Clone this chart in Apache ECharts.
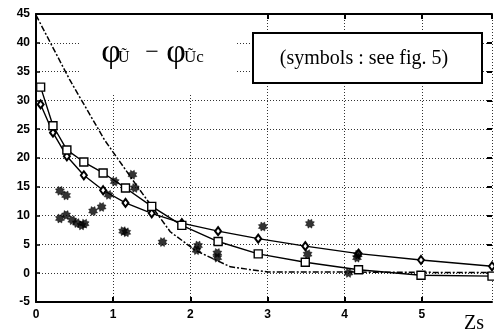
<!DOCTYPE html>
<html>
<head>
<meta charset="utf-8">
<style>
  html, body { margin: 0; padding: 0; background: #fff; }
  #chart { width: 494px; height: 333px; }
</style>
<script src="https://cdn.jsdelivr.net/npm/echarts@6/dist/echarts.min.js"></script>
</head>
<body>
<div id="chart"></div>
<script>
// abscissa shared by the two model curves (squares / diamonds)
const zsModel = [0.06, 0.22, 0.40, 0.62, 0.87, 1.16, 1.50, 1.89, 2.36, 2.88, 3.49, 4.18, 4.99, 5.91];
const squareVals = [32.3, 25.6, 21.4, 19.3, 17.4, 14.8, 11.6, 8.3, 5.5, 3.35, 1.9, 0.6, -0.35, -0.5];
const diamondVals = [29.3, 24.4, 20.3, 17.0, 14.4, 12.2, 10.4, 8.7, 7.3, 6.0, 4.7, 3.4, 2.3, 1.2];

// dash-dot curve
const zsDash = [0, 0.44, 0.89, 1.30, 1.74, 2.06, 2.52, 3.01, 4.0, 5.0, 5.91];
const dashVals = [44.8, 33.5, 23.1, 15.3, 7.2, 4.0, 1.1, 0.2, 0.2, 0.15, 0.1];

// measured points (asterisks)
const zsStar = [0.31, 0.39, 0.31, 0.39, 0.47, 0.53, 0.59, 0.63, 0.74, 0.85, 0.94, 1.02, 1.13, 1.17,
  1.25, 1.28, 1.64, 2.10, 2.08, 2.35, 2.35, 2.94, 3.55, 3.52, 4.17, 4.16, 4.05];
const starVals = [14.3, 13.5, 9.5, 10.1, 9.2, 8.7, 8.3, 8.6, 10.8, 11.5, 13.6, 15.9, 7.3, 7.1,
  17.1, 14.8, 5.4, 4.8, 4.0, 3.5, 2.7, 8.1, 8.6, 3.3, 3.2, 2.7, 0.05];

const xTicks = [0, 1, 2, 3, 4, 5];
const yTicks = [-5, 0, 5, 10, 15, 20, 25, 30, 35, 40, 45];

const pairs = (xs, ys) => xs.map((x, i) => [x, ys[i]]);

// 8 branch asterisk as a filled path
function starPath() {
  let d = "";
  for (let i = 0; i < 16; i++) {
    const a = (i * Math.PI) / 8 + Math.PI / 8;
    const r = i % 2 === 0 ? 10 : 6.5;
    const x = (10 + r * Math.cos(a)).toFixed(2);
    const y = (10 + r * Math.sin(a)).toFixed(2);
    d += (i === 0 ? "M" : "L") + x + " " + y + " ";
  }
  return "path://" + d + "Z";
}

const chart = echarts.init(document.getElementById("chart"), null, { renderer: "canvas" });
const labelFont = { color: "#000", fontWeight: "bold", fontSize: 12, fontFamily: "Liberation Sans" };
const grid = { lineStyle: { color: "#333", type: [1, 2], width: 1 } };

chart.setOption({
  animation: false,
  backgroundColor: "#fff",
  grid: { left: 36, right: 2, top: 14, bottom: 31 },
  xAxis: [
    {
      type: "value", min: 0, max: 5.91, interval: 1,
      axisLine: { onZero: false, lineStyle: { color: "#000", width: 2 } },
      axisTick: { inside: true, length: 5, lineStyle: { color: "#000", width: 2 } },
      axisLabel: Object.assign({ margin: 7, showMaxLabel: false,
        formatter: v => (xTicks.includes(v) ? String(v) : "") }, labelFont),
      splitLine: Object.assign({ show: true }, grid)
    },
    {
      type: "value", position: "top", min: 0, max: 5.91, interval: 1,
      axisLine: { show: true, onZero: false, lineStyle: { color: "#000", width: 2 } },
      axisTick: { inside: true, length: 5, lineStyle: { color: "#000", width: 2 } },
      axisLabel: { show: false },
      splitLine: { show: false }
    }
  ],
  yAxis: [
    {
      type: "value", min: -5, max: 45, interval: 5,
      axisLine: { show: true, onZero: false, lineStyle: { color: "#000", width: 2 } },
      axisTick: { show: true, inside: true, length: 4, lineStyle: { color: "#000", width: 1.5 } },
      axisLabel: Object.assign({ margin: 6,
        formatter: v => (yTicks.includes(v) ? String(v) : "") }, labelFont),
      splitLine: Object.assign({ show: true }, grid)
    },
    {
      type: "value", position: "right", min: -5, max: 45, interval: 5,
      axisLine: { show: false, onZero: false },
      axisTick: { show: true, inside: true, length: 5, lineStyle: { color: "#000", width: 2 } },
      axisLabel: { show: false },
      splitLine: { show: false }
    }
  ],
  series: [
    {
      type: "line",
      data: pairs(zsDash, dashVals),
      symbol: "none",
      lineStyle: { color: "#000", width: 1.5, type: [6, 2, 2, 2] },
      z: 2
    },
    {
      type: "line",
      data: pairs(zsModel, diamondVals),
      symbol: "diamond", symbolSize: [6, 8],
      itemStyle: { color: "#fff", borderColor: "#000", borderWidth: 2 },
      lineStyle: { color: "#000", width: 1.4 },
      z: 3
    },
    {
      type: "line",
      data: pairs(zsModel, squareVals),
      symbol: "rect", symbolSize: 8,
      itemStyle: { color: "#fff", borderColor: "#000", borderWidth: 1.4 },
      lineStyle: { color: "#000", width: 1.4 },
      z: 4
    },
    {
      type: "scatter",
      data: pairs(zsStar, starVals),
      symbol: starPath(), symbolSize: 9,
      itemStyle: { color: "#000", borderColor: "#000", borderWidth: 0.5 },
      z: 5
    }
  ],
  graphic: [
    // white patch behind the formula
    { type: "rect", shape: { x: 80, y: 15, width: 155, height: 79 }, style: { fill: "#fff" }, z: 10 },
    { type: "text", x: 111, y: 53, style: { text: "φ", font: "34px 'Liberation Serif'", fill: "#000",
      textAlign: "center", textVerticalAlign: "middle" }, z: 11 },
    { type: "text", x: 118, y: 58, style: { text: "Ũ", font: "16px 'Liberation Serif'", fill: "#000",
      textAlign: "left", textVerticalAlign: "middle" }, z: 11 },
    { type: "text", x: 152, y: 53, style: { text: "−", font: "24px 'Liberation Serif'", fill: "#000",
      textAlign: "center", textVerticalAlign: "middle" }, z: 11 },
    { type: "text", x: 176, y: 53, style: { text: "φ", font: "34px 'Liberation Serif'", fill: "#000",
      textAlign: "center", textVerticalAlign: "middle" }, z: 11 },
    { type: "text", x: 184, y: 58, style: { text: "Ũc", font: "17px 'Liberation Serif'", fill: "#000",
      textAlign: "left", textVerticalAlign: "middle" }, z: 11 },
    // note box
    { type: "rect", shape: { x: 253, y: 33, width: 229, height: 50 },
      style: { fill: "#fff", stroke: "#000", lineWidth: 2 }, z: 10 },
    { type: "text", x: 364, y: 59, style: { text: "(symbols : see fig. 5)", font: "20px 'Liberation Serif'",
      fill: "#000", textAlign: "center", textVerticalAlign: "middle" }, z: 11 },
    // axis name
    { type: "text", x: 474, y: 324, style: { text: "Zs", font: "20px 'Liberation Serif'", fill: "#000",
      textAlign: "center", textVerticalAlign: "middle" }, z: 11 }
  ]
});
</script>
</body>
</html>
